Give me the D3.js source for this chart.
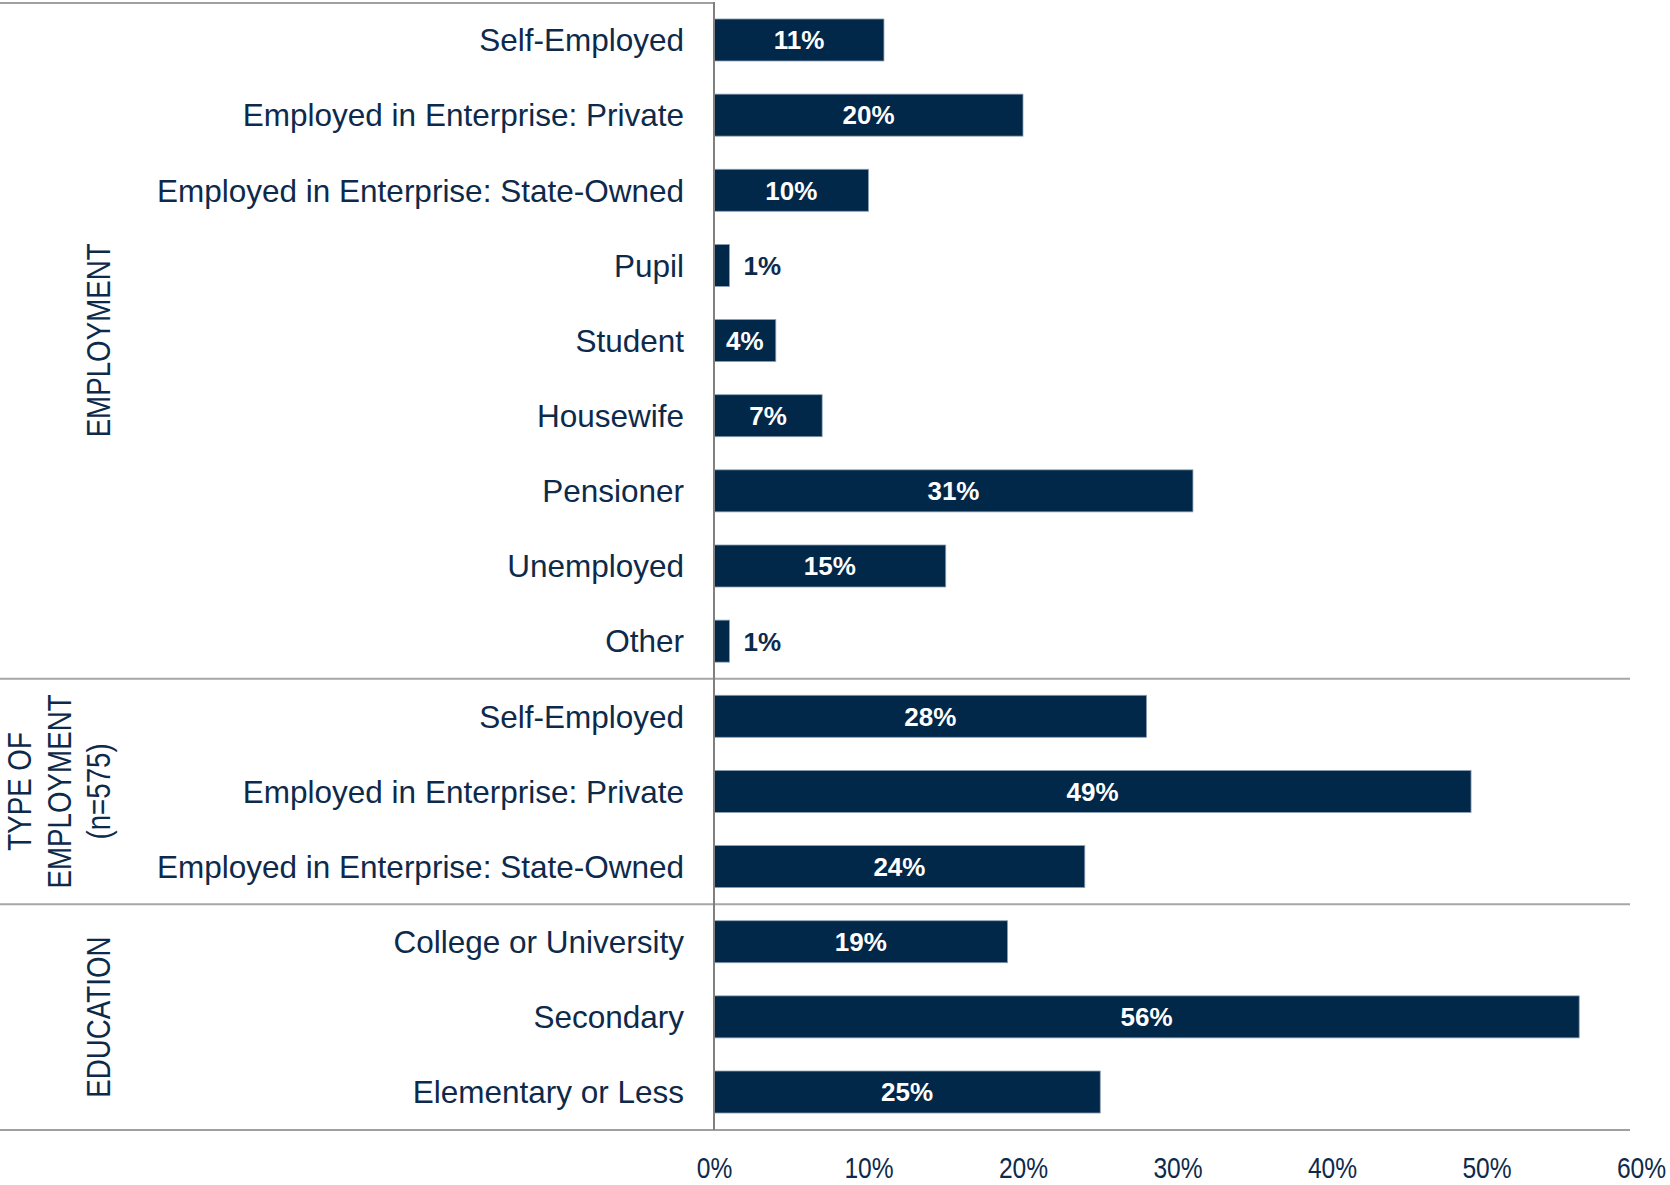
<!DOCTYPE html>
<html>
<head>
<meta charset="utf-8">
<script src="https://cdn.jsdelivr.net/npm/d3@7"></script>
<style>
  html, body { margin: 0; padding: 0; background: #ffffff; }
  svg { display: block; }
</style>
</head>
<body>
<div id="chart"></div>
<script>
// ---- data ----
const employmentLabels = ["Self-Employed", "Employed in Enterprise: Private", "Employed in Enterprise: State-Owned", "Pupil", "Student", "Housewife", "Pensioner", "Unemployed", "Other"];
const employmentValues = [11, 20, 10, 1, 4, 7, 31, 15, 1];
const typeLabels = ["Self-Employed", "Employed in Enterprise: Private", "Employed in Enterprise: State-Owned"];
const typeValues = [28, 49, 24];
const educationLabels = ["College or University", "Secondary", "Elementary or Less"];
const educationValues = [19, 56, 25];
const groupTitles = [["EMPLOYMENT"], ["TYPE OF", "EMPLOYMENT", "(n=575)"], ["EDUCATION"]];
const tickValues = [0, 10, 20, 30, 40, 50, 60];
const tickLabels = ["0%", "10%", "20%", "30%", "40%", "50%", "60%"];

(function () {
const groups = [
  { labels: employmentLabels, values: employmentValues, title: groupTitles[0] },
  { labels: typeLabels, values: typeValues, title: groupTitles[1] },
  { labels: educationLabels, values: educationValues, title: groupTitles[2] }
];
const rows = [];
groups.forEach((g, gi) => g.labels.forEach((l, i) => rows.push({ id: gi + "-" + i, group: gi, label: l, value: g.values[i] })));

// ---- layout ----
const W = 1670, H = 1185;
const axisX = 714, rightX = 1641;
const yTop = 2, yBottom = 1130;
const navy = "#012749", textCol = "#0d2a4b";

const svg = d3.select("#chart").append("svg").attr("width", W).attr("height", H);

const x = d3.scaleLinear().domain([0, 60]).range([axisX, rightX]);
const y = d3.scaleBand().domain(rows.map(r => r.id)).range([yTop, yBottom]).paddingInner(0.441).paddingOuter(0.226);
const bw = y.bandwidth();
const gap = y.step() - bw;

// top line
svg.append("line").attr("x1", 0).attr("x2", axisX).attr("y1", yTop + 1).attr("y2", yTop + 1)
  .attr("stroke", "#a0a0a0").attr("stroke-width", 2);

// separators
const sepY = [];
let idx = 0;
groups.forEach((g, gi) => {
  idx += g.labels.length;
  if (gi < groups.length - 1) {
    const lastId = rows[idx - 1].id;
    sepY.push(y(lastId) + bw + gap / 2);
  }
});
svg.selectAll("line.sep").data(sepY).join("line").attr("class", "sep")
  .attr("x1", 0).attr("x2", 1630).attr("y1", d => d).attr("y2", d => d)
  .attr("stroke", "#a6a6a6").attr("stroke-width", 2);

// bottom line
svg.append("line").attr("x1", 0).attr("x2", 1630).attr("y1", yBottom).attr("y2", yBottom)
  .attr("stroke", "#a0a0a0").attr("stroke-width", 2);

// bars
svg.selectAll("rect.bar").data(rows).join("rect").attr("class", "bar")
  .attr("x", axisX).attr("y", d => y(d.id))
  .attr("width", d => x(d.value) - axisX).attr("height", bw)
  .attr("fill", navy).attr("stroke", "#8da0b6").attr("stroke-width", 0.8);

// vertical axis line
svg.append("line").attr("x1", axisX).attr("x2", axisX).attr("y1", yTop).attr("y2", yBottom)
  .attr("stroke", "#808080").attr("stroke-width", 2);

// category labels
svg.selectAll("text.cat").data(rows).join("text").attr("class", "cat")
  .attr("x", 684).attr("y", d => y(d.id) + bw / 2).attr("dy", "0.36em")
  .attr("text-anchor", "end")
  .attr("font-family", "'Liberation Sans', Arial, sans-serif").attr("font-size", 31.5)
  .attr("fill", textCol).text(d => d.label);

// value labels
svg.selectAll("text.val").data(rows).join("text").attr("class", "val")
  .attr("x", d => d.value >= 3 ? (axisX + x(d.value)) / 2 : x(d.value) + 14)
  .attr("y", d => y(d.id) + bw / 2).attr("dy", "0.36em")
  .attr("text-anchor", d => d.value >= 3 ? "middle" : "start")
  .attr("font-family", "'Liberation Sans', Arial, sans-serif").attr("font-weight", "bold").attr("font-size", 26)
  .attr("fill", d => d.value >= 3 ? "#ffffff" : textCol)
  .text(d => d.value + "%");

// x axis
const xAxis = d3.axisBottom(x).tickValues(tickValues).tickSize(0).tickFormat((d, i) => tickLabels[i]);
const ax = svg.append("g").attr("transform", `translate(0, 1167)`).call(xAxis);
ax.select(".domain").remove();
ax.selectAll("text").attr("font-family", "'Liberation Sans', Arial, sans-serif")
  .attr("font-size", 30).attr("fill", textCol).attr("dy", "0.36em").attr("y", 0)
  .attr("transform", "scale(0.82,1)");

// group titles
const bounds = [yTop, ...sepY, yBottom];
groups.forEach((g, gi) => {
  const cy = (bounds[gi] + bounds[gi + 1]) / 2;
  const n = g.title.length;
  const lh = 39.5;
  const lastBase = 110;
  g.title.forEach((t, li) => {
    const bx = lastBase - (n - 1 - li) * lh;
    svg.append("text")
      .attr("transform", `translate(${bx}, ${cy}) rotate(-90) scale(0.84,1)`)
      .attr("text-anchor", "middle")
      .attr("font-family", "'Liberation Sans', Arial, sans-serif")
      .attr("font-size", 33).attr("fill", textCol).text(t);
  });
});
})();
</script>
</body>
</html>
